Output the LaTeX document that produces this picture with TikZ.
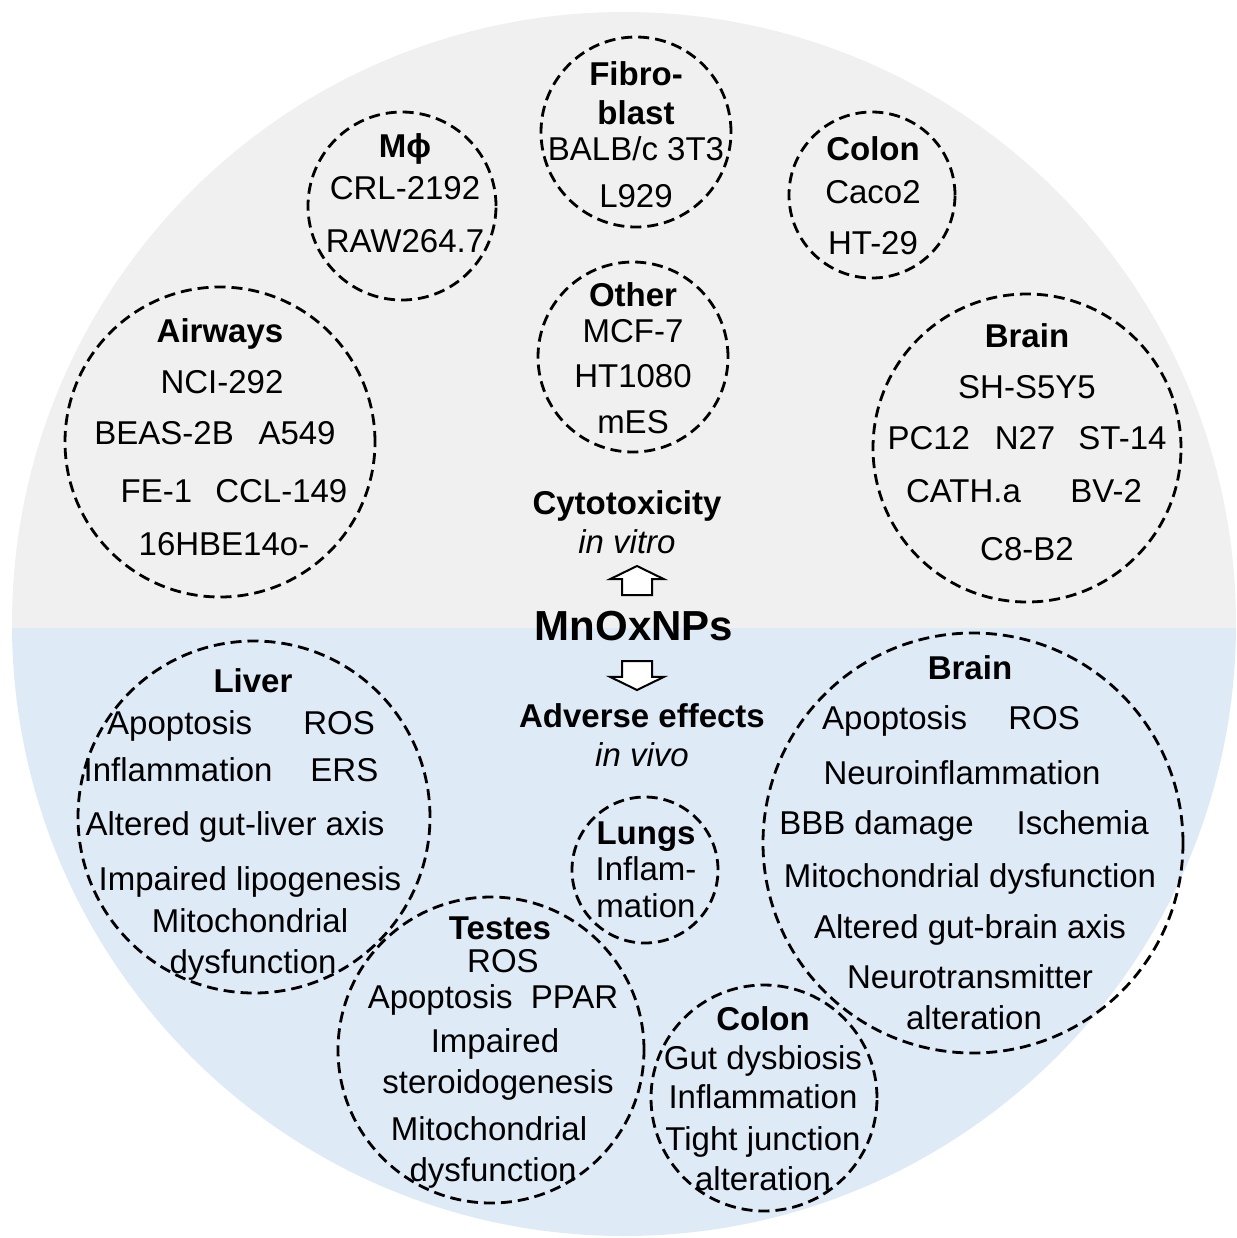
\documentclass[tikz,border=0pt]{standalone}
\usepackage{fontspec}
\setmainfont{Liberation Sans}
\usetikzlibrary{positioning,shapes.arrows}
\definecolor{vitrogray}{HTML}{F0F0F0}
\definecolor{vivoblue}{HTML}{DEEAF6}

\begin{document}
\begin{tikzpicture}[
    x=0.5pt, y=-0.5pt,
    organ/.style={circle, draw, line width=1.4pt, dash pattern=on 5.5pt off 3pt, inner sep=0pt},
    celltext/.style={anchor=north, align=center, inner sep=0pt, font=\fontsize{16.5}{18}\selectfont},
    headline/.style={anchor=base, inner sep=0pt, font=\fontsize{16.5}{18}\selectfont\bfseries},
    subline/.style={anchor=base, inner sep=0pt, font=\fontsize{16.5}{18}\selectfont\itshape},
    blockarrow/.style={single arrow, draw, fill=white, line width=1pt, inner sep=0pt, inner ysep=7pt,
        minimum height=14.5pt, single arrow head extend=6pt, single arrow tip angle=128},
]
\useasboundingbox (0,0) rectangle (1237,1238);

% Background disc
\begin{scope}
\clip (624,624) circle[radius=612];
\fill[vitrogray] (0,0) rectangle (1237,628);
\fill[vivoblue] (0,628) rectangle (1237,1238);
\end{scope}

% Centre
\node[headline] (cyto) at (627,514) {Cytotoxicity};
\node[subline] (vitro) at (627,553) {in vitro};
\node[anchor=base, inner sep=0pt, font=\fontsize{21}{22}\selectfont\bfseries] (mnox) at (634,640) {MnOxNPs};
\node[headline] (adverse) at (642,727) {Adverse effects};
\node[subline] (vivo) at (642,766) {in vivo};
\node[blockarrow, rotate=90, anchor=tail] (uparrow) at (637,596) {};
\node[blockarrow, rotate=-90, anchor=tail] (downarrow) at (637,660) {};

% In vitro cell lines
\node[organ, minimum size=94pt] (mphi) at (402,206) {};
\node[celltext] (mphi-txt) at (405,133) {\textbf{M\symbol{"03D5}}\\[3pt] CRL-2192\\[8.5pt] RAW264.7};
\node[organ, minimum size=95pt] (fibro) at (636,132) {};
\node[celltext] (fibro-txt) at (636,61) {\textbf{Fibro-}\\[1.5pt] \textbf{blast}\\ BALB/c 3T3\\[5.5pt] L929};
\node[organ, minimum size=83pt] (colon1) at (872,195) {};
\node[celltext] (colon1-txt) at (873,136) {\textbf{Colon}\\[3.5pt] Caco2\\[7.5pt] HT-29};
\node[organ, minimum size=95pt] (other) at (633,357) {};
\node[celltext] (other-txt) at (633,282) {\textbf{Other}\\ MCF-7\\[4.5pt] HT1080\\[5pt] mES};
\node[organ, minimum size=155pt] (airways) at (220,442) {};
\node[celltext] (airways-txt) at (222,318) {\hspace*{-2pt}\textbf{Airways}\\[7.5pt] NCI-292\\[7.5pt] \hspace*{-7pt}BEAS-2B\hspace{0.75em}A549\\[11pt] \hspace*{12pt}FE-1\hspace{0.7em}CCL-149\\[8.5pt] \hspace*{2pt}16HBE14o-};
\node[organ, minimum size=154pt] (brain1) at (1027,448) {};
\node[celltext] (brain1-txt) at (1027,323) {\textbf{Brain}\\[7.5pt] SH-S5Y5\\[7.5pt] PC12\hspace{0.75em}N27\hspace{0.7em}ST-14\\[8.5pt] \hspace*{-3pt}CATH.a\hspace{1.5em}BV-2\\[11pt] C8-B2};

% In vivo effects
\node[organ, minimum size=176pt] (liver) at (254,817) {};
\node[celltext] (liver-txt) at (250,668) {\hspace*{3pt}\textbf{Liver}\\[3pt] \hspace*{-9pt}Apoptosis\hspace{1.55em}ROS\\[5.5pt] \hspace*{-19pt}Inflammation\hspace{1.15em}ERS\\[9pt] \hspace*{-15pt}Altered gut-liver axis\\[9.5pt] Impaired lipogenesis\\[3pt] Mitochondrial\\[2.5pt] \hspace*{3pt}dysfunction};
\node[organ, minimum size=210pt] (brain2) at (973,843) {};
\node[celltext] (brain2-txt) at (970,655) {\textbf{Brain}\\[7pt] \hspace*{-19pt}Apoptosis\hspace{1.25em}ROS\\[9.5pt] \hspace*{-8pt}Neuroinflammation\\[7pt] \hspace*{-6pt}BBB damage\hspace{1.3em}Ischemia\\[8.5pt] Mitochondrial dysfunction\\[7.5pt] Altered gut-brain axis\\[7pt] Neurotransmitter\\[2.5pt] \hspace*{4pt}alteration};
\node[organ, minimum size=73pt] (lungs) at (645,870) {};
\node[celltext] (lungs-txt) at (646,821) {\textbf{Lungs}\\ Inflam-\\[0.5pt] mation};
\node[organ, minimum size=153pt] (testes) at (491,1050) {};
\node[celltext] (testes-txt) at (495,916) {\hspace*{5pt}\textbf{Testes}\\[-1.5pt] \hspace*{8pt}ROS\\ \hspace*{-2pt}Apoptosis\hspace{0.55em}PPAR\\[4pt] Impaired\\[2.5pt] \hspace*{3pt}steroidogenesis\\[5.5pt] \hspace*{-6pt}Mitochondrial\\[2.5pt] \hspace*{-2pt}dysfunction};
\node[organ, minimum size=113pt] (colon2) at (764,1098) {};
\node[celltext] (colon2-txt) at (763,1006) {\textbf{Colon}\\[1.5pt] Gut dysbiosis\\[1.5pt] Inflammation\\[3pt] Tight junction\\[2pt] alteration};

\end{tikzpicture}
\end{document}
